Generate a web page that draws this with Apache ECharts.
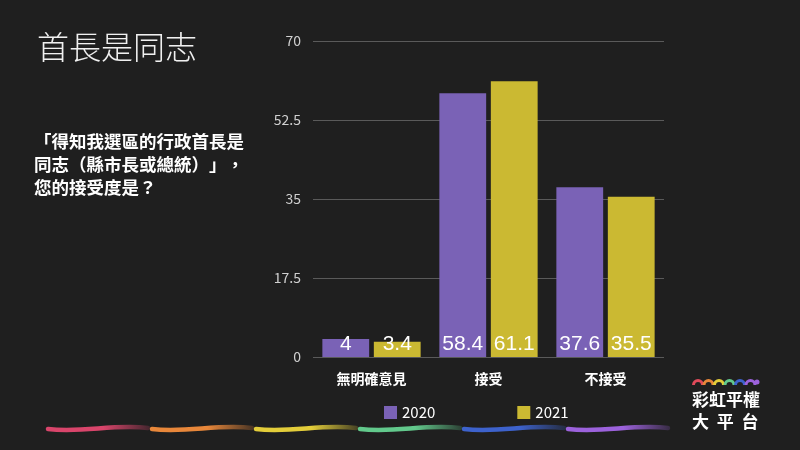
<!DOCTYPE html>
<html><head><meta charset="utf-8">
<script src="https://cdn.jsdelivr.net/npm/echarts@6/dist/echarts.min.js"></script>
<style>html,body{margin:0;padding:0;background:#1f1f1f;}#c{width:800px;height:450px;}</style>
</head><body><div id="c"></div>
<script>
const categories = ['無明確意見', '接受', '不接受'];
const series2020 = [4, 58.4, 37.6];
const series2021 = [3.4, 61.1, 35.5];
const yTicks = [0, 17.5, 35, 52.5, 70];
const seriesNames = ['2020', '2021'];

const FONT = '"Noto Sans CJK TC", "Noto Sans", sans-serif';
const chart = echarts.init(document.getElementById('c'), null, {renderer: 'canvas'});

const waveColors = ['#d9456b', '#e8873a', '#e3cd3a', '#62c98c', '#3d62cc', '#9c62dc'];
const waveStarts = [48, 152, 256, 360, 464, 568];
const graphics = [];
waveStarts.forEach((x0, i) => {
  graphics.push({
    type: 'bezierCurve',
    shape: {x1: x0, y1: 429, x2: x0 + 100, y2: 428, cpx1: x0 + 35, cpy1: 433, cpx2: x0 + 65, cpy2: 424},
    style: {
      fill: null, lineWidth: 4.5, lineCap: 'round',
      stroke: new echarts.graphic.LinearGradient(0, 0, 1, 0, [
        {offset: 0, color: waveColors[i]}, {offset: 0.55, color: waveColors[i]},
        {offset: 1, color: waveColors[i] + '30'}])
    }
  });
});
// logo arcs
const logoColors = ['#e04a5a', '#e8873a', '#e3cd3a', '#62c98c', '#3d62cc', '#9c62dc'];
logoColors.forEach((c, i) => {
  const cx = 698 + i * 10.5;
  graphics.push({type: 'arc', shape: {cx: cx, cy: 385, r: 4.5, startAngle: Math.PI, endAngle: 2 * Math.PI},
    style: {stroke: c, lineWidth: 3, fill: null}});
});
graphics.push({type: 'circle', shape: {cx: 757, cy: 382, r: 2.5}, style: {fill: '#9c62dc'}});
graphics.push({type: 'text', left: 692, top: 391, style: {text: '彩虹平權', fill: '#fff', font: 'bold 17px ' + FONT}});
graphics.push({type: 'text', left: 692, top: 413, style: {text: '大  平  台', fill: '#fff', font: 'bold 17px ' + FONT}});

const subStyle = {color: '#ffffff', fontSize: 17.5, fontWeight: 'bold', lineHeight: 23, fontFamily: FONT};
chart.setOption({
  backgroundColor: '#1f1f1f',
  title: [
    {text: '首長是同志', left: 32, top: 26, textStyle: {color: '#f0f0f0', fontSize: 32, fontWeight: 300, fontFamily: FONT}},
    {text: '{a|「得知我選區的行政首長是}\n{a|同志（縣市長或總統}{a|）}{a|」}{a|，}\n{a|您的接受度是？}', left: 29, top: 125,
      textStyle: {rich: {a: subStyle}}}
  ],
  grid: {left: 313, right: 136, top: 41, bottom: 93},
  legend: {
    data: seriesNames, left: 379, top: 400, itemWidth: 13, itemHeight: 13, itemGap: 82,
    icon: 'rect',
    textStyle: {color: '#ffffff', fontSize: 15, fontFamily: FONT}
  },
  xAxis: {
    type: 'category', data: categories,
    axisLine: {show: false}, axisTick: {show: false},
    axisLabel: {color: '#ffffff', fontSize: 14, fontWeight: 'bold', margin: 15, fontFamily: FONT}
  },
  yAxis: {
    type: 'value', min: 0, max: 70, interval: 17.5,
    axisLine: {show: false}, axisTick: {show: false},
    axisLabel: {color: '#d0d0d0', fontSize: 14, margin: 12, fontFamily: FONT,
      formatter: v => yTicks.includes(v) ? String(v) : ''},
    splitLine: {lineStyle: {color: '#5a5a5a', width: 1}}
  },
  series: [
    {name: seriesNames[0], type: 'bar', data: series2020, barWidth: '40%', barGap: '10%',
      itemStyle: {color: '#7a62b6'},
      label: {show: true, position: 'insideBottom', distance: 2, color: '#fff', fontSize: 21, fontFamily: 'Liberation Sans, Arial'}},
    {name: seriesNames[1], type: 'bar', data: series2021, barWidth: '40%',
      itemStyle: {color: '#cbb932'},
      label: {show: true, position: 'insideBottom', distance: 2, color: '#fff', fontSize: 21, fontFamily: 'Liberation Sans, Arial'}}
  ],
  graphic: graphics
});
</script></body></html>
